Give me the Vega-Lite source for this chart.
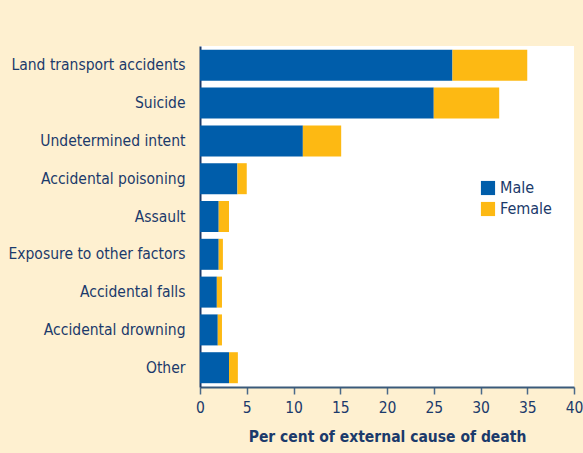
{
  "$schema": "https://vega.github.io/schema/vega-lite/v6.json",
  "width": 374,
  "height": 341,
  "autosize": {"type": "none"},
  "padding": {"left": 200, "top": 46, "right": 9, "bottom": 66},
  "background": "#FEF0D0",
  "config": {
    "view": {"fill": "#FFFFFF", "stroke": null},
    "font": "DejaVu Sans Condensed, Roboto, sans-serif",
    "axis": {"labelColor": "#1B3A6B", "titleColor": "#1B3A6B"}
  },
  "data": {
    "values": [
      {"cause": "Land transport accidents", "sex": "Male", "ord": 1, "value": 27},
      {"cause": "Land transport accidents", "sex": "Female", "ord": 2, "value": 8},
      {"cause": "Suicide", "sex": "Male", "ord": 1, "value": 25},
      {"cause": "Suicide", "sex": "Female", "ord": 2, "value": 7},
      {"cause": "Undetermined intent", "sex": "Male", "ord": 1, "value": 11},
      {"cause": "Undetermined intent", "sex": "Female", "ord": 2, "value": 4.1},
      {"cause": "Accidental poisoning", "sex": "Male", "ord": 1, "value": 4},
      {"cause": "Accidental poisoning", "sex": "Female", "ord": 2, "value": 1},
      {"cause": "Assault", "sex": "Male", "ord": 1, "value": 2},
      {"cause": "Assault", "sex": "Female", "ord": 2, "value": 1.1},
      {"cause": "Exposure to other factors", "sex": "Male", "ord": 1, "value": 2},
      {"cause": "Exposure to other factors", "sex": "Female", "ord": 2, "value": 0.45},
      {"cause": "Accidental falls", "sex": "Male", "ord": 1, "value": 1.8},
      {"cause": "Accidental falls", "sex": "Female", "ord": 2, "value": 0.55},
      {"cause": "Accidental drowning", "sex": "Male", "ord": 1, "value": 1.9},
      {"cause": "Accidental drowning", "sex": "Female", "ord": 2, "value": 0.45},
      {"cause": "Other", "sex": "Male", "ord": 1, "value": 3.1},
      {"cause": "Other", "sex": "Female", "ord": 2, "value": 0.95}
    ]
  },
  "mark": {"type": "bar"},
  "encoding": {
    "y": {
      "field": "cause",
      "type": "nominal",
      "sort": ["Land transport accidents", "Suicide", "Undetermined intent", "Accidental poisoning", "Assault", "Exposure to other factors", "Accidental falls", "Accidental drowning", "Other"],
      "scale": {"paddingInner": 0.18, "paddingOuter": 0.1},
      "axis": {
        "title": null,
        "ticks": false,
        "labelPadding": 15,
        "labelFontSize": 15.5,
        "labelLimit": 200,
        "domainColor": "#1B3A6B",
        "domainWidth": 2
      }
    },
    "x": {
      "field": "value",
      "type": "quantitative",
      "stack": "zero",
      "scale": {"domain": [0, 40], "nice": false},
      "axis": {
        "title": "Per cent of external cause of death",
        "titleFontSize": 15.5,
        "titleFontWeight": "bold",
        "titlePadding": 14,
        "values": [0, 5, 10, 15, 20, 25, 30, 35, 40],
        "grid": false,
        "labelFontSize": 15.5,
        "labelPadding": 6,
        "labelFlush": false,
        "tickSize": 7,
        "tickColor": "#4A6A8A",
        "tickWidth": 1.5,
        "domainColor": "#3A5A7A",
        "domainWidth": 2
      }
    },
    "color": {
      "field": "sex",
      "type": "nominal",
      "scale": {"domain": ["Male", "Female"], "range": ["#005DAA", "#FDB913"]},
      "legend": {
        "title": null,
        "orient": "none",
        "legendX": 280,
        "legendY": 134,
        "symbolType": "square",
        "symbolSize": 200,
        "symbolStrokeWidth": 0,
        "symbolOpacity": 1,
        "labelFontSize": 16,
        "labelColor": "#1B3A6B",
        "rowPadding": 5
      }
    },
    "order": {"field": "ord", "type": "quantitative"}
  }
}
